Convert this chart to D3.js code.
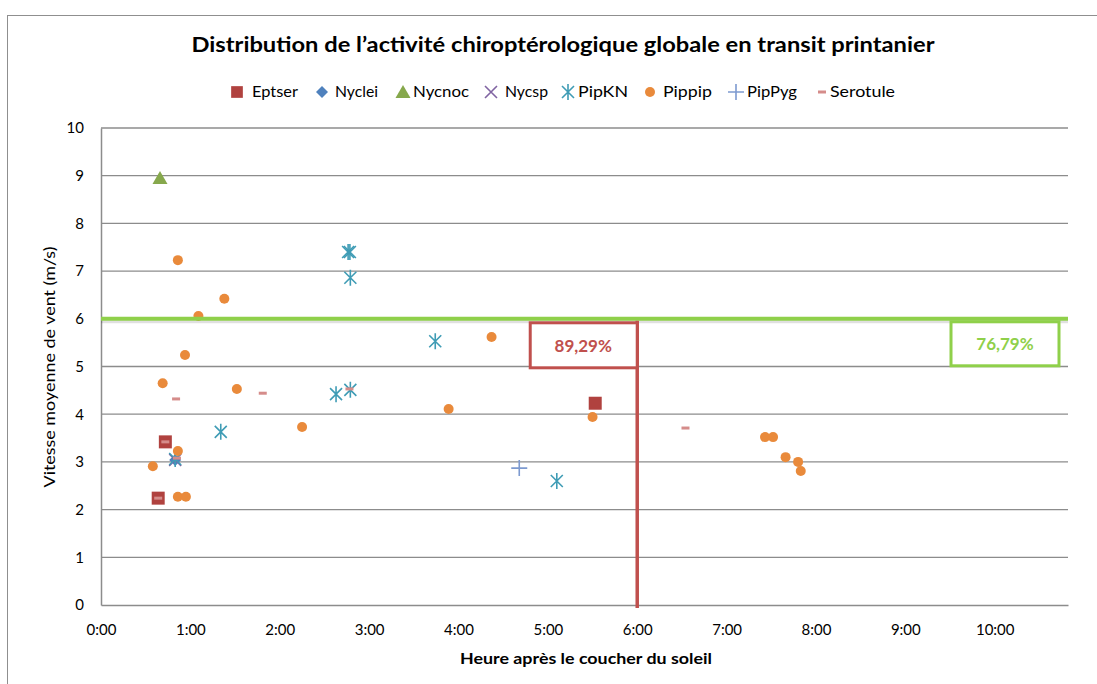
<!DOCTYPE html>
<html>
<head>
<meta charset="utf-8">
<script src="https://cdn.jsdelivr.net/npm/d3@7"></script>
<style>
  body { margin: 0; background: #fff; }
  text { font-family: Lato, "Open Sans", sans-serif; fill: #000; }
</style>
</head>
<body>
<div id="canvas"></div>
<script>
"use strict"

// hours after sunset / mean wind speed (m/s)
let eptserHours = [0.64, 0.72, 5.53]
let eptserWind  = [2.24, 3.42, 4.23]

let nycleiHours = [0.83]
let nycleiWind  = [3.04]

let nycnocHours = [0.66]
let nycnocWind  = [8.95]

let nycspHours = [0.83]
let nycspWind  = [3.04]

let pipknHours = [2.765, 2.785, 2.79, 3.74, 2.63, 2.79, 1.34, 5.10, 0.83]
let pipknWind  = [7.40, 7.40, 6.86, 5.53, 4.42, 4.51, 3.63, 2.60, 3.06]

let pippipHours = [0.86, 1.38, 1.09, 0.94, 0.69, 1.52, 0.86, 0.58, 0.86, 0.95,
                   2.25, 3.89, 4.37, 5.50, 7.43, 7.52, 7.66, 7.80, 7.83]
let pippipWind  = [7.23, 6.42, 6.06, 5.24, 4.65, 4.53, 3.23, 2.91, 2.27, 2.27,
                   3.73, 4.11, 5.62, 3.94, 3.52, 3.52, 3.10, 3.00, 2.81]

let pippygHours = [4.68]
let pippygWind  = [2.87]

let serotuleHours = [0.84, 1.81, 6.54, 2.78, 0.72, 0.64, 0.85]
let serotuleWind  = [4.32, 4.44, 3.71, 4.53, 3.42, 2.24, 3.08]

let yTicks = [0, 1, 2, 3, 4, 5, 6, 7, 8, 9, 10]
let xTicks = [0, 1, 2, 3, 4, 5, 6, 7, 8, 9, 10]

let windLimit = 6      // horizontal threshold
let hourLimit = 6      // vertical threshold
let pctBelowWind = "76,79%"
let pctBeforeHour = "89,29%"

let series = [
  {name: "Eptser",   hours: eptserHours,   wind: eptserWind,   shape: "square",   color: "#b0423f"},
  {name: "Nyclei",   hours: nycleiHours,   wind: nycleiWind,   shape: "diamond",  color: "#4f81bd"},
  {name: "Nycnoc",   hours: nycnocHours,   wind: nycnocWind,   shape: "triangle", color: "#86a84c"},
  {name: "Nycsp",    hours: nycspHours,    wind: nycspWind,    shape: "x",        color: "#8064a2"},
  {name: "PipKN",    hours: pipknHours,    wind: pipknWind,    shape: "star",     color: "#3f9cb5"},
  {name: "Pippip",   hours: pippipHours,   wind: pippipWind,   shape: "circle",   color: "#e98a3b"},
  {name: "PipPyg",   hours: pippygHours,   wind: pippygWind,   shape: "plus",     color: "#7d9ad0"},
  {name: "Serotule", hours: serotuleHours, wind: serotuleWind, shape: "dash",     color: "#d58c8a"}
]

let width = 1097, height = 684
let plotLeft = 101, plotRight = 1068, plotTop = 128, plotBottom = 605

let drawing = d3.select("#canvas")
    .append("svg")
    .attr("width", width)
    .attr("height", height)

/* chart frame */
drawing.append("rect")
    .attr("x", 7.5).attr("y", 15.5)
    .attr("width", width).attr("height", height)
    .attr("fill", "none")
    .attr("stroke", "#8f8f8f")

let x = d3.scaleLinear().domain([0, 10.82]).range([plotLeft, plotRight])
let y = d3.scaleLinear().domain([0, 10]).range([plotBottom, plotTop])

/* gridlines */
drawing.append("g").selectAll("line")
    .data(yTicks.filter(d => d > 0))
    .join("line")
    .attr("x1", plotLeft).attr("x2", plotRight)
    .attr("y1", d => y(d)).attr("y2", d => y(d))
    .attr("stroke", "#8c8c8c")
    .attr("stroke-width", 1.3)

/* axes */
let yAxis = drawing.append("g")
    .attr("transform", `translate(${plotLeft},0)`)
    .call(d3.axisLeft(y).tickValues(yTicks).tickSize(0).tickPadding(17))
let xAxis = drawing.append("g")
    .attr("transform", `translate(0,${plotBottom})`)
    .call(d3.axisBottom(x).tickValues(xTicks).tickSize(0).tickPadding(19)
          .tickFormat(d => d + ":00"))
for (let ax of [yAxis, xAxis]) {
  ax.select(".domain").attr("stroke", "#8c8c8c").attr("stroke-width", 1.5)
  ax.selectAll("text").attr("font-size", 15).attr("fill", "#000")
    .style("font-family", "Lato, sans-serif")
}

/* marker shapes */
function markerPath(shape) {
  let p = d3.path()
  if (shape === "square") { p.rect(-6.5, -6.5, 13, 13) }
  else if (shape === "diamond") { p.moveTo(0, -6); p.lineTo(6, 0); p.lineTo(0, 6); p.lineTo(-6, 0); p.closePath() }
  else if (shape === "triangle") { p.moveTo(0, -7); p.lineTo(7.5, 6); p.lineTo(-7.5, 6); p.closePath() }
  else if (shape === "circle") { p.arc(0, 0, 5, 0, 2 * Math.PI) }
  else if (shape === "x") { p.moveTo(-6, -6); p.lineTo(6, 6); p.moveTo(6, -6); p.lineTo(-6, 6) }
  else if (shape === "plus") { p.moveTo(-8, 0); p.lineTo(8, 0); p.moveTo(0, -8); p.lineTo(0, 8) }
  else if (shape === "star") { p.moveTo(0, -8); p.lineTo(0, 8); p.moveTo(-6, -6); p.lineTo(6, 6); p.moveTo(6, -6); p.lineTo(-6, 6) }
  else if (shape === "dash") { p.rect(-4, -1.5, 8, 3) }
  return p.toString()
}
let filled = {square: true, diamond: true, triangle: true, circle: true, dash: true}

function styleMarker(sel, s) {
  sel.attr("d", markerPath(s.shape))
  if (filled[s.shape]) sel.attr("fill", s.color).attr("stroke", "none")
  else sel.attr("fill", "none").attr("stroke", s.color).attr("stroke-width", 1.6)
}

/* points */
for (let s of series) {
  drawing.append("g").selectAll("path")
    .data(s.hours.map((h, i) => [h, s.wind[i]]))
    .join("path")
    .attr("transform", d => `translate(${x(d[0])},${y(d[1])})`)
    .call(styleMarker, s)
}

/* 6 m/s threshold line */
drawing.append("line")
    .attr("x1", plotLeft).attr("x2", plotRight)
    .attr("y1", y(windLimit) + 3).attr("y2", y(windLimit) + 3)
    .attr("stroke", "#000").attr("stroke-opacity", 0.12).attr("stroke-width", 3)
drawing.append("line")
    .attr("x1", plotLeft).attr("x2", plotRight)
    .attr("y1", y(windLimit)).attr("y2", y(windLimit))
    .attr("stroke", "#8fd04a").attr("stroke-width", 4)

/* 6:00 threshold line */
drawing.append("line")
    .attr("x1", x(hourLimit)).attr("x2", x(hourLimit))
    .attr("y1", y(windLimit) + 2).attr("y2", plotBottom + 3)
    .attr("stroke", "#c0504d").attr("stroke-width", 3.5)

/* red label box */
drawing.append("rect")
    .attr("x", x(hourLimit) - 107).attr("y", y(windLimit) + 4)
    .attr("width", 107).attr("height", 45)
    .attr("fill", "#fff").attr("stroke", "#c0504d").attr("stroke-width", 3)
drawing.append("text")
    .attr("x", x(hourLimit) - 54).attr("y", y(windLimit) + 33)
    .attr("text-anchor", "middle")
    .attr("font-size", 17).attr("font-weight", "bold")
    .style("fill", "#c0504d")
    .text(pctBeforeHour)

/* green label box */
drawing.append("rect")
    .attr("x", plotRight - 117).attr("y", y(windLimit) + 3)
    .attr("width", 108).attr("height", 44)
    .attr("fill", "#fff").attr("stroke", "#8fd04a").attr("stroke-width", 3)
drawing.append("text")
    .attr("x", plotRight - 63).attr("y", y(windLimit) + 31)
    .attr("text-anchor", "middle")
    .attr("font-size", 17).attr("font-weight", "bold")
    .style("fill", "#8fd04a")
    .text(pctBelowWind)

/* title */
drawing.append("text")
    .attr("x", 563).attr("y", 52)
    .attr("text-anchor", "middle")
    .attr("font-size", 20).attr("font-weight", "bold")
    .attr("textLength", 743).attr("lengthAdjust", "spacingAndGlyphs")
    .text("Distribution de l\u2019activité chiroptérologique globale en transit printanier")

/* legend */
let legendX = [237, 322, 403, 491, 568, 650, 736, 822]
let legendTextX = [252, 335, 413, 505, 578, 663, 747, 830]
let legendTextW = [46, 43, 56, 43, 50, 49, 50, 65]
let legend = drawing.append("g").selectAll("g")
    .data(series)
    .join("g")
    .attr("transform", (d, i) => `translate(${legendX[i]},92)`)
legend.append("path")
    .each(function(d) {
      d3.select(this).call(styleMarker, d)
    })
    .attr("transform", d => d.shape === "square" ? "scale(0.9)" : null)
legend.append("text")
    .attr("x", (d, i) => legendTextX[i] - legendX[i])
    .attr("y", 5)
    .attr("font-size", 15)
    .attr("textLength", (d, i) => legendTextW[i])
    .attr("lengthAdjust", "spacingAndGlyphs")
    .text(d => d.name)

/* axis titles */
drawing.append("text")
    .attr("x", 586).attr("y", 664)
    .attr("text-anchor", "middle")
    .attr("font-size", 16).attr("font-weight", "bold")
    .attr("textLength", 252).attr("lengthAdjust", "spacingAndGlyphs")
    .text("Heure après le coucher du soleil")
drawing.append("text")
    .attr("transform", "translate(55,367) rotate(-90)")
    .attr("text-anchor", "middle")
    .attr("font-size", 15)
    .attr("textLength", 241).attr("lengthAdjust", "spacingAndGlyphs")
    .text("Vitesse moyenne de vent (m/s)")
</script>
</body>
</html>
